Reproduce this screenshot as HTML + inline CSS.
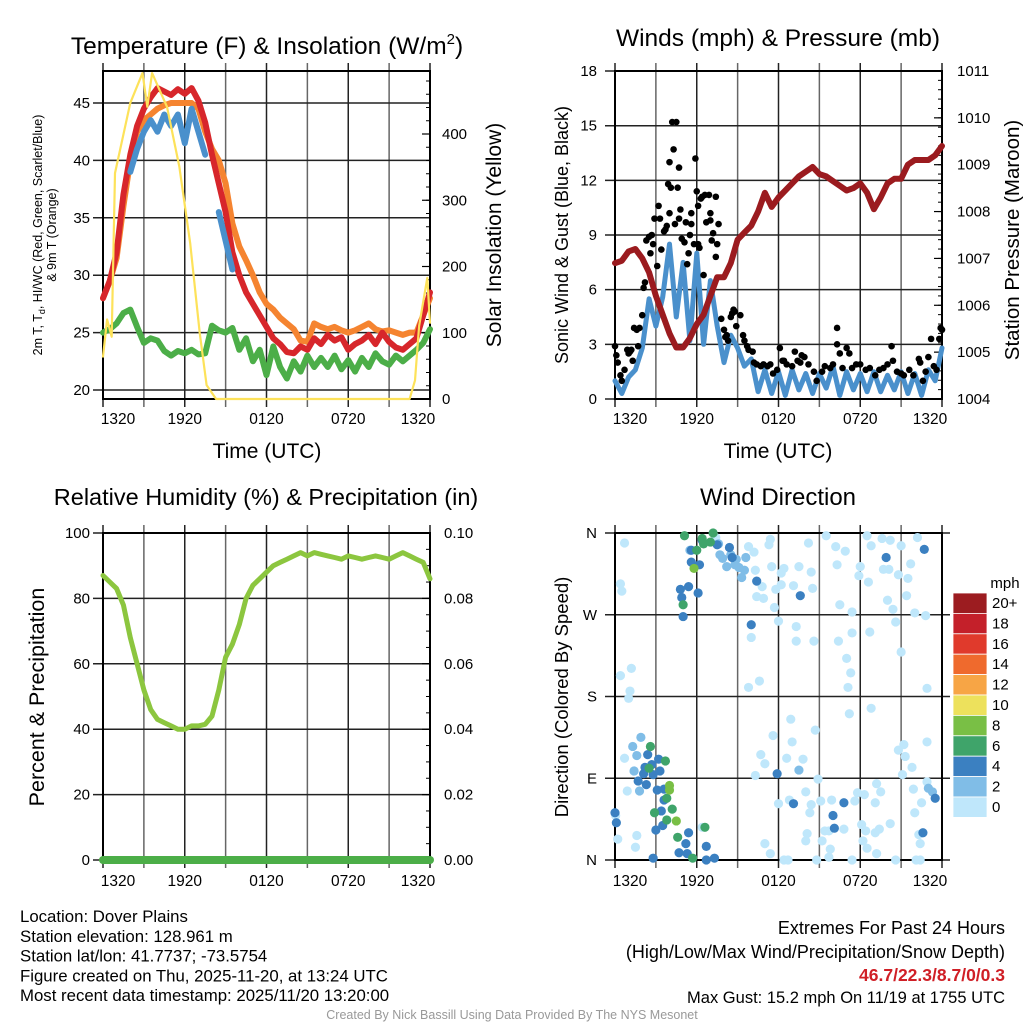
<!DOCTYPE html>
<html><head><meta charset="utf-8"><style>
body{margin:0;background:#fff;}
svg{display:block;font-family:"Liberation Sans",sans-serif;}
</style></head><body>
<svg id="c" width="1024" height="1024" viewBox="0 0 1024 1024"></svg>
<script>
// ---------- DATA ----------
const halfHours = [0,.5,1,1.5,2,2.5,3,3.5,4,4.5,5,5.5,6,6.5,7,7.5,8,8.5,9,9.5,10,10.5,11,11.5,12,12.5,13,13.5,14,14.5,15,15.5,16,16.5,17,17.5,18,18.5,19,19.5,20,20.5,21,21.5,22,22.5,23,23.5,24];
const xTickLabels = ["1320","1920","0120","0720","1320"];
const tempRed = [28,29.5,32,37,40.5,43,44.5,45.5,46.3,46,45.7,46.2,45.8,46.3,45.2,43.3,40.5,38,35.5,32,30,28.5,27.5,26.5,25.5,24.5,24,23.3,23.2,23.8,23.5,24.5,24,24.8,24.3,24.6,23.5,24,24.3,24.8,24,25,24.2,23.7,23.5,24,24.5,26.5,28.5];
const temp9m = [28,29.5,31.5,36,40,42.5,43.5,44,44.5,44.8,45,45,45,45,44.5,42.5,41,40,38,34.5,32.5,31.3,30,28.5,27.5,27,26.3,25.8,25.3,24.3,24.2,25.8,25.5,25.3,25.5,25.2,25,25.2,25.5,25.8,25.3,25.1,25.2,25,24.8,25,25,26.5,28];
const heatIndex = [null,null,null,null,39,41,42.5,43.5,42.5,44,43,44,41.5,44.5,42.5,40.5,null,35.5,33,30.5,null,null,null,null,null,null,null,null,null,null,null,null,null,null,null,null,null,null,null,null,null,null,null,null,null,null,null,null,null];
const dewpoint = [25,25.3,25.8,26.7,27,25.5,24.1,24.5,24.3,23.4,23,23.4,23.2,23.5,23.1,23.2,25.6,25.2,25,25.4,23.5,24.5,22.5,23.5,21.3,23.8,22,21,22.5,21.6,23,22,22.8,22,23,21.8,22.6,21.6,22.8,22,23.2,22.5,22.2,23,22.5,23,23.5,24.1,25.3];
const solarTimes = [0,.3,.64,.88,2,2.9,3.25,3.6,4.7,5.6,6.4,7.1,7.6,8.3,22.5,22.9,23.2,23.8,24];
const solarValues = [64,120,94,341,447,492,441,492,441,351,235,100,21,0,0,28,110,183,115];
const windSpeed = [1,.3,1.2,1.6,2.8,5.5,4,5.6,8.5,4.5,7.5,3.2,8,3,6.5,4,2,3.5,2.8,1.8,2.2,.4,1.6,.3,1.5,.2,1.6,.5,1.4,.3,1.4,.6,1.8,.2,1.5,.5,1.4,.4,1.5,.4,1.3,.5,1.5,.3,1.4,.2,1.6,1,2.8];
const pressure = [1006.9,1006.95,1007.15,1007.2,1007,1006.7,1006.2,1005.8,1005.4,1005.1,1005.1,1005.3,1005.6,1005.8,1006.2,1006.6,1006.6,1006.9,1007.4,1007.55,1007.7,1008,1008.4,1008.1,1008.3,1008.45,1008.6,1008.75,1008.85,1008.95,1008.8,1008.75,1008.65,1008.55,1008.45,1008.5,1008.6,1008.4,1008.05,1008.3,1008.6,1008.7,1008.7,1009,1009.1,1009.1,1009.1,1009.2,1009.4];
const gustTimes = [0,.1,.2,.4,.5,.7,.9,1,1.1,1.2,1.3,1.4,1.6,1.8,1.7,2,2.1,2.2,2.3,2.5,2.7,2.6,2.8,2.9,3.1,3.2,3.3,3.4,3.6,3.7,3.8,3.9,4,4,4.1,4.2,4.3,4.4,4.5,4.6,4.7,4.7,4.8,4.9,5.1,5.2,5.3,5.4,5.5,5.6,5.6,5.8,5.9,6,6.1,6.1,6.2,6.3,6.4,6.5,6.6,6.7,6.9,7,7,7.1,7.2,7.4,7.4,7.5,7.6,7.8,8,8.1,8.2,8.3,8.5,8.6,8.7,8.8,8.9,9.2,9.4,9.5,9.7,9.8,10.1,10.2,10.4,10.7,10.9,11.2,11.4,11.6,11.9,12.1,12.3,12.4,12.6,13,13.2,13.4,13.6,13.7,13.9,14.2,14.6,14.8,15.2,15.4,15.8,16,16.3,16.3,16.5,16.7,17,17.2,17.4,17.7,18,18.4,18.7,19.1,19.4,19.7,20,20.3,20.4,20.7,21,21.2,21.6,21.9,22.3,22.4,22.6,22.8,23,23.2,23.4,23.6,23.8,23.9,24];
const gustValues = [2.9,2.4,2,1.3,1,1.6,2.7,2.5,2.6,2.7,2.1,3.9,3.8,3.9,2.9,4.6,6.1,6.4,8.7,8.9,9,8,8.5,9.9,7.3,10.6,9.9,8.2,9.2,9.3,9.5,11.8,10.2,13,11.6,15.2,13.7,9.6,15.2,11.6,12.7,9.9,10.4,8.8,8.6,9.7,7.4,8,9,10.2,9.6,8.5,13.2,11.4,10.6,8.5,8.3,11,11.1,6.8,11.2,9.7,11.2,10.2,9.8,8.7,9.1,7.8,11.1,8.5,9.6,4.4,3.8,3.4,3.5,3.2,4.5,4.7,4.9,4.8,4,4.6,3.5,3.2,2.9,2.7,2.6,2,1.9,1.8,1.9,1.8,1.9,1.4,1.6,2.8,2.1,2.1,1.9,1.8,2.6,2.1,2,2.4,2.3,1.9,1.5,1,1.5,1.8,1.7,1.9,3,3.9,2.5,1.7,2.8,2.5,1.7,1.9,1.9,1.6,1.7,1.3,1.6,1.7,1.9,2.9,2.1,1.5,1.4,1.3,1.6,1.3,2.2,2,1,1.5,2.3,3.3,1.8,1.6,3.3,3.9,3.8];
const rhValues = [87,85,83,78,68,60,52,46,43,42,41,40,40,41,41,41.5,44,52,62,66,72,80,84,86,88,90,91,92,93,94,93,94,93.5,93,92.5,92,93,92.5,92,92.5,93,92.5,92,93,94,93,92,91,86];
const precipValues = [0,0,0,0,0,0,0,0,0,0,0,0,0,0,0,0,0,0,0,0,0,0,0,0,0,0,0,0,0,0,0,0,0,0,0,0,0,0,0,0,0,0,0,0,0,0,0,0,0];
const dirTimes = [.7,.4,.5,.4,1.2,1.1,1,.7,1.4,.9,.2,1.6,1.5,.05,7.4,9.8,10.2,11.3,11.4,10.3,11.5,12.2,12.4,12.2,11.8,10.8,10.4,10.9,11.7,12,14.2,15.5,16.2,16.9,16.3,13.5,14.4,13.1,14.5,16.5,17.4,18,17.9,18.6,18.8,18.5,19.6,20.2,19.7,20.1,21,22.2,20.8,21.5,21.4,21.7,20,20.4,20.6,22,22.8,21,22.9,10,13.3,13.3,14.6,16.4,17.4,18.7,17,17.3,17.1,17.2,18.8,9.8,10.6,12.9,11.6,14.7,13,10.7,11,12.6,13.8,10.3,14.9,12,12.8,14,14.4,14.3,15.1,15.9,17.6,17.8,18.3,19.2,19.5,19.1,21.9,22.5,22,22.9,20.8,21.2,21.3,21.8,21.1,22.9,11,11.4,12.4,12.7,14.1,14,14.8,15.2,15.4,15.7,15.7,15.8,16.8,17.4,18.1,18.4,18.2,18.5,19.1,19.4,19.2,20.2,20.6,22.1,22.4,22.3,22.4,6.4,
7.6,7.7,7.9,8.2,8.5,8.9,8.8,9.1,9.3,9.6,9.5,5.5,1.9,1.3,1.6,1.4,1.8,13.5,23,23.3,
6.4,5.6,5.6,6.2,5.4,4.8,4.9,5,6.1,7.5,8.4,8.6,10.4,13.6,19.9,22.7,10,2.4,3.2,2.2,2.7,2.1,2.8,3.3,1.7,2.3,3.1,3.6,3.6,3.4,3.5,3,5.4,5.2,4.7,5.3,6.7,6.7,7.3,2.8,0,.1,11.9,13.1,16,16.1,16.8,22.6,23.5,
5.1,6.4,6.5,7,7.2,6,5,2.6,3.7,2.5,3.8,4.2,2.9,3.8,4.6,6.6,5.7,
5.8,4,4,4.5];
const dirDegrees = [349,304,296,203,211,186,178,112,98,76,23,27,14,49,355,345,339,347,353,319,323,316,321,303,298,301,290,288,278,263,349,357,345,340,325,323,317,302,299,281,273,323,313,306,346,357,354,352,320,320,346,355,314,310,291,326,286,276,262,272,269,229,189,245,257,241,241,241,250,251,222,206,190,161,167,190,197,155,137,143,130,116,106,112,111,93,89,62,66,75,61,52,65,66,65,74,72,84,75,63,78,63,52,86,121,127,114,102,94,130,18,7,0,0,29,21,0,21,32,32,3,12,34,0,39,32,21,13,30,34,7,40,0,0,0,28,18,36,
348,336,332,323,336,331,325,322,311,333,319,341,135,125,115,98,76,99,79,75,
352,341,328,325,301,298,289,268,294,347,344,333,307,291,333,342,259,116,111,102,105,95,94,98,87,83,77,78,66,54,38,33,30,18,8,7,15,0,2,2,52,41,95,62,49,35,63,30,68,
357,354,348,350,360,341,281,125,109,101,68,56,52,44,25,36,2,
321,82,77,43];
const dirSpeeds = [1,1,1,1,1,1,1,1,1,1,1,1,1,1,1,1,1,1,1,1,1,1,1,1,1,1,1,1,1,1,1,1,1,1,1,1,1,1,1,1,1,1,1,1,1,1,1,1,1,1,1,1,1,1,1,1,1,1,1,1,1,1,1,1,1,1,1,1,1,1,1,1,1,1,1,1,1,1,1,1,1,1,1,1,1,1,1,1,1,1,1,1,1,1,1,1,1,1,1,1,1,1,1,1,1,1,1,1,1,1,1,1,1,1,1,1,1,1,1,1,1,1,1,1,1,1,1,1,1,1,1,1,1,1,1,1,1,1,
3,3,3,3,3,3,3,3,3,3,3,3,3,3,3,3,3,3,3,3,
5,5,5,5,5,5,5,5,5,5,5,5,5,5,5,5,5,5,5,5,5,5,5,5,5,5,5,5,5,5,5,5,5,5,5,5,5,5,5,5,5,5,5,5,5,5,5,5,5,
7,7,7,7,7,7,7,7,7,7,7,7,7,7,7,7,7,
9,9,9,9];
const cbarLabels = ["20+","18","16","14","12","10","8","6","4","2","0"];
const cbarColors = ["#9c1c20","#c4202a","#e03a2c","#ef6a2d","#f7a545","#ede15c","#79bf45","#3fa46a","#3b80c1","#80bde7","#bfe7fb"];

// ---------- HELPERS ----------
const svg=document.getElementById('c');const NS='http://www.w3.org/2000/svg';
function mk(tag,at,parent){const e=document.createElementNS(NS,tag);for(const k in at)e.setAttribute(k,at[k]);(parent||svg).appendChild(e);return e;}
function txt(s,x,y,size,anchor,extra){const e=mk('text',Object.assign({x:x,y:y,'font-size':size,'text-anchor':anchor||'middle',fill:'#000'},extra||{}));e.textContent=s;return e;}
function P(x0,x1,y0,y1){return {x0,x1,y0,y1,x:t=>x0+t/24*(x1-x0)};}
const p1=P(103,430,71,399),p2=P(615,942,71,399),p3=P(103,430,533,860),p4=P(615,942,533,860);
function grid(p,hVals,yf,name){
  const g=mk('g',{});
  for(let h=0;h<=24;h+=3){const x=p.x(h);mk('line',{x1:x,x2:x,y1:p.y0-8,y2:p.y1+8,stroke:(h%6==0)?'#222':'#666','stroke-width':1.5},g);}
  hVals.forEach(v=>{const y=yf(v);mk('line',{x1:p.x0-10,x2:p.x1+(name=='p4'?8:0),y1:y,y2:y,stroke:'#222','stroke-width':1.5},g);});
  mk('rect',{x:p.x0,y:p.y0,width:p.x1-p.x0,height:p.y1-p.y0,fill:'none',stroke:'#000','stroke-width':2},g);
}
function xlabels(p,y){const pos=[p.x0+15,p.x(6),p.x(12),p.x(18),p.x1-12];xTickLabels.forEach((s,i)=>{const e=txt(s,pos[i],y,15.5);});}
function line(p,ts,vs,yf,color,w,name){let d='';let pen=false;ts.forEach((t,i)=>{const v=vs[i];if(v===null||v===undefined){pen=false;return;}d+=(pen?'L':'M')+p.x(t).toFixed(1)+' '+yf(v).toFixed(1);pen=true;});
  const e=mk('path',{d:d,fill:'none',stroke:color,'stroke-width':w,'stroke-linejoin':'round','stroke-linecap':'round'});return e;}
function rightTicks(p,vals,yf,minor){vals.forEach(v=>{const y=yf(v);mk('line',{x1:p.x1,x2:p.x1-8,y1:y,y2:y,stroke:'#000','stroke-width':1.2});});minor.forEach(v=>{const y=yf(v);mk('line',{x1:p.x1,x2:p.x1-4,y1:y,y2:y,stroke:'#000','stroke-width':1});});}

// ---------- PANEL 1 ----------
const y1L=v=>390-(v-20)*11.48, y1R=v=>399-v*0.6625;
grid(p1,[20,25,30,35,40,45],y1L,'p1');
{const m=[];for(let v=20;v<=500;v+=20)m.push(v);rightTicks(p1,[0,100,200,300,400],y1R,m.filter(v=>v<=490));}
line(p1,halfHours,temp9m,y1L,'#f58430',6,'temp-9m-line');
line(p1,halfHours,tempRed,y1L,'#d7262b',6,'temp-2m-line');
line(p1,halfHours,heatIndex,y1L,'#4a90cc',6,'heat-index-line');
line(p1,halfHours,dewpoint,y1L,'#4cae48',6,'dewpoint-line');
line(p1,solarTimes,solarValues,y1R,'#fde25a',2.2,'insolation-line');
[20,25,30,35,40,45].forEach(v=>{const e=txt(String(v),90,y1L(v)+5,15,'end');});
[0,100,200,300,400].forEach(v=>{const e=txt(String(v),442,y1R(v)+5,15,'start');});
xlabels(p1,424);
{const t=txt('',267,54,24.5);t.innerHTML='Temperature (F) &amp; Insolation (W/m<tspan dy="-10" font-size="15">2</tspan><tspan dy="10">)</tspan>';}
{const t=txt('Time (UTC)',267,458,21);}
{const g=mk('g',{transform:'translate(42,235) rotate(-90)'});
 const a=mk('text',{x:0,y:0,'font-size':12.5,'text-anchor':'middle'},g);a.innerHTML='2m T, T<tspan dy="3" font-size="9">d</tspan><tspan dy="-3">, HI/WC (Red, Green, Scarlet/Blue)</tspan>';
 const b=mk('text',{x:0,y:14,'font-size':12.5,'text-anchor':'middle'},g);b.textContent='& 9m T (Orange)';}
{const t=txt('Solar Insolation (Yellow)',0,0,21,'middle',{transform:'translate(501,235) rotate(-90)'});}

// ---------- PANEL 2 ----------
const y2L=v=>399-v*18.22, y2R=v=>399-(v-1004)*46.86;
grid(p2,[0,3,6,9,12,15,18],y2L,'p2');
{const m=[];for(let v=1004;v<=1011;v+=0.2)m.push(v);rightTicks(p2,[1004,1005,1006,1007,1008,1009,1010,1011],y2R,m);}
line(p2,halfHours,windSpeed,y2L,'#4a90cc',5,'sonic-wind-line');
gustTimes.forEach((t,i)=>{const c=mk('circle',{cx:p2.x(t),cy:y2L(gustValues[i]),r:3.3,fill:'#000'});});
line(p2,halfHours,pressure,y2R,'#9b1b1f',6,'pressure-line');
[0,3,6,9,12,15,18].forEach(v=>{const e=txt(String(v),597,y2L(v)+5,15,'end');});
[1004,1005,1006,1007,1008,1009,1010,1011].forEach(v=>{const e=txt(String(v),957,y2R(v)+5,15,'start');});
xlabels(p2,424);
{const t=txt('Winds (mph) & Pressure (mb)',778,46,24.5);}
{const t=txt('Time (UTC)',778,458,21);}
{const t=txt('Sonic Wind & Gust (Blue, Black)',0,0,18,'middle',{transform:'translate(568,235) rotate(-90)'});}
{const t=txt('Station Pressure (Maroon)',0,0,20.5,'middle',{transform:'translate(1019,240) rotate(-90)'});}

// ---------- PANEL 3 ----------
const y3L=v=>860-v*3.27, y3R=v=>860-v*3270;
grid(p3,[0,20,40,60,80,100],y3L,'p3');
{const m=[];for(let v=0;v<=0.1;v+=0.005)m.push(v);rightTicks(p3,[0,.02,.04,.06,.08,.1],y3R,m);}
line(p3,halfHours,rhValues,y3L,'#8cc63f',5,'rh-line');
line(p3,halfHours,precipValues,y3R,'#4cae48',8,'precip-line');
[0,20,40,60,80,100].forEach(v=>{const e=txt(String(v),90,y3L(v)+5,15,'end');});
[0,.02,.04,.06,.08,.1].forEach(v=>{const e=txt(v.toFixed(2),444,y3R(v)+5,15,'start');});
xlabels(p3,886);
{const t=txt('Relative Humidity (%) & Precipitation (in)',266,505,23.5);}
{const t=txt('Percent & Precipitation',0,0,21.5,'middle',{transform:'translate(44,697) rotate(-90)'});}

// ---------- PANEL 4 ----------
const y4=v=>860-v/360*327;
grid(p4,[0,90,180,270,360],y4,'p4');
function spdColor(s){const idx=Math.min(10,Math.floor(s/2));return cbarColors[10-idx];}
dirTimes.forEach((t,i)=>{const c=mk('circle',{cx:p4.x(t),cy:y4(dirDegrees[i]),r:4.6,fill:spdColor(dirSpeeds[i])});});
[['N',0],['E',90],['S',180],['W',270],['N',360]].forEach(a=>{const e=txt(a[0],597,y4(a[1])+5,15,'end');});
xlabels(p4,886);
{const t=txt('Wind Direction',778,505,24);}
{const t=txt('Direction (Colored By Speed)',0,0,18.5,'middle',{transform:'translate(568,697) rotate(-90)'});}
{const g=mk('g',{});
 cbarColors.forEach((c,i)=>{mk('rect',{x:953,y:593+i*20.4,width:34,height:20.4,fill:c,stroke:'#fff','stroke-width':0.8},g);});
 cbarLabels.forEach((s,i)=>{const e=txt(s,992,593+i*20.4+15,15,'start');});
 const u=txt('mph',1005,588,15);}

// ---------- FOOTER ----------
["Location: Dover Plains","Station elevation: 128.961 m","Station lat/lon: 41.7737; -73.5754","Figure created on Thu, 2025-11-20, at 13:24 UTC","Most recent data timestamp: 2025/11/20 13:20:00"].forEach((s,i)=>{const e=txt(s,20,922+i*19.8,16.8,'start');});
{let e=txt('Extremes For Past 24 Hours',1005,934,18,'end');
 e=txt('(High/Low/Max Wind/Precipitation/Snow Depth)',1005,958,18,'end');
 e=txt('46.7/22.3/8.7/0/0.3',1005,981,17.5,'end',{fill:'#d01f26','font-weight':'bold'});
 e=txt('Max Gust: 15.2 mph On 11/19 at 1755 UTC',1005,1003,16.5,'end');
 e=txt('Created By Nick Bassill Using Data Provided By The NYS Mesonet',512,1019,12.5,'middle',{fill:'#999'});}
</script>
</body></html>
